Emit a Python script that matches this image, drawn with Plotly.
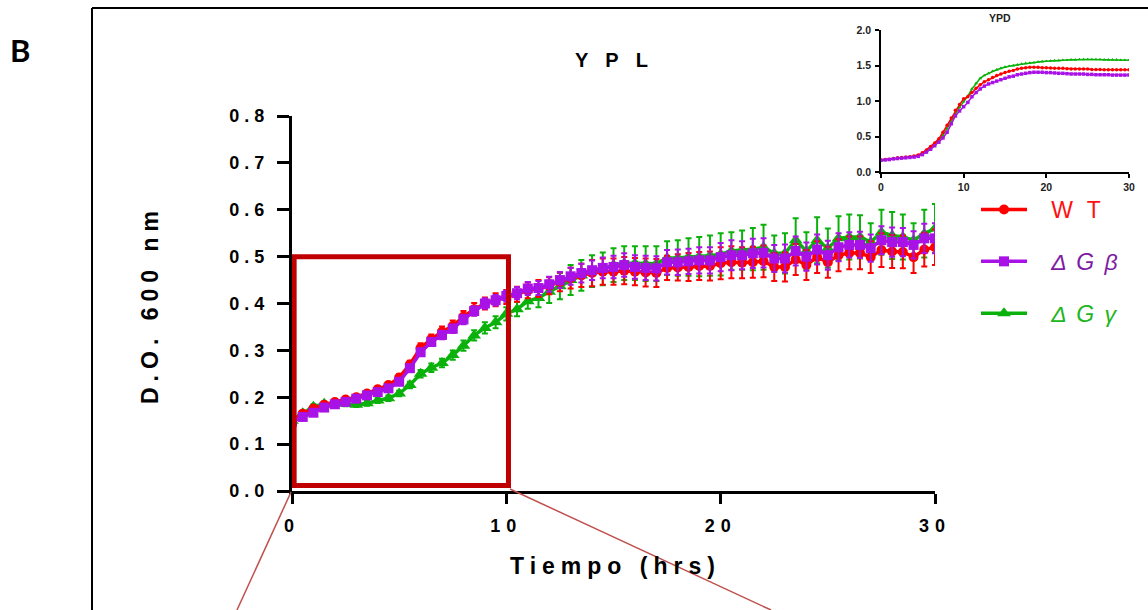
import plotly.graph_objects as go

W, H = 1148, 610
FONT = "Liberation Sans, Arial, sans-serif"

# ---------------- data ----------------
time_h = [0, 0.5, 1, 1.5, 2, 2.5, 3, 3.5, 4, 4.5, 5, 5.5, 6, 6.5, 7, 7.5, 8, 8.5, 9, 9.5,
          10, 10.5, 11, 11.5, 12, 12.5, 13, 13.5, 14, 14.5, 15, 15.5, 16, 16.5, 17, 17.5,
          18, 18.5, 19, 19.5, 20, 20.5, 21, 21.5, 22, 22.5, 23, 23.5, 24, 24.5, 25, 25.5,
          26, 26.5, 27, 27.5, 28, 28.5, 29, 29.5, 30]

# YPL (main panel), D.O. 600 nm
wt_ypl = [0.150, 0.165, 0.176, 0.184, 0.190, 0.195, 0.200, 0.208, 0.217, 0.226,
          0.242, 0.270, 0.305, 0.324, 0.340, 0.352, 0.372, 0.388, 0.400, 0.408,
          0.414, 0.420, 0.428, 0.432, 0.438, 0.446, 0.454, 0.460, 0.465, 0.468,
          0.468, 0.470, 0.468, 0.466, 0.465, 0.476, 0.477, 0.478, 0.480, 0.480,
          0.486, 0.488, 0.487, 0.488, 0.490, 0.478, 0.478, 0.494, 0.482, 0.499,
          0.488, 0.503, 0.508, 0.508, 0.499, 0.514, 0.511, 0.510, 0.499, 0.515,
          0.520]
wt_ypl_sd = [0.004, 0.004, 0.004, 0.004, 0.005, 0.005, 0.005, 0.005, 0.006, 0.006,
             0.007, 0.008, 0.010, 0.010, 0.011, 0.012, 0.012, 0.013, 0.013, 0.014,
             0.015, 0.016, 0.017, 0.018, 0.018, 0.020, 0.022, 0.025, 0.028, 0.028,
             0.028, 0.029, 0.029, 0.030, 0.030, 0.026, 0.028, 0.030, 0.030, 0.031,
             0.034, 0.034, 0.033, 0.033, 0.034, 0.030, 0.031, 0.033, 0.032, 0.034,
             0.033, 0.034, 0.035, 0.035, 0.034, 0.036, 0.035, 0.035, 0.034, 0.036,
             0.038]

gb_ypl = [0.148, 0.158, 0.167, 0.178, 0.185, 0.190, 0.197, 0.204, 0.211, 0.219,
          0.233, 0.262, 0.296, 0.318, 0.333, 0.346, 0.366, 0.384, 0.400, 0.407,
          0.416, 0.422, 0.432, 0.433, 0.441, 0.450, 0.458, 0.465, 0.471, 0.476,
          0.478, 0.482, 0.478, 0.476, 0.475, 0.488, 0.488, 0.490, 0.492, 0.492,
          0.499, 0.503, 0.503, 0.507, 0.508, 0.496, 0.496, 0.512, 0.500, 0.515,
          0.503, 0.520, 0.525, 0.525, 0.518, 0.535, 0.531, 0.531, 0.525, 0.539,
          0.539]
gb_ypl_sd = [0.003, 0.003, 0.003, 0.004, 0.004, 0.004, 0.004, 0.004, 0.005, 0.005,
             0.006, 0.007, 0.008, 0.008, 0.009, 0.009, 0.010, 0.010, 0.011, 0.011,
             0.012, 0.013, 0.014, 0.015, 0.016, 0.017, 0.018, 0.020, 0.021, 0.022,
             0.024, 0.025, 0.025, 0.026, 0.026, 0.026, 0.027, 0.027, 0.028, 0.028,
             0.030, 0.032, 0.030, 0.031, 0.031, 0.029, 0.030, 0.031, 0.030, 0.032,
             0.031, 0.030, 0.027, 0.028, 0.029, 0.030, 0.031, 0.030, 0.029, 0.031,
             0.032]

gg_ypl = [0.150, 0.166, 0.180, 0.186, 0.186, 0.186, 0.184, 0.187, 0.193, 0.198,
          0.208, 0.226, 0.250, 0.263, 0.273, 0.290, 0.310, 0.332, 0.348, 0.360,
          0.378, 0.388, 0.405, 0.412, 0.425, 0.437, 0.450, 0.460, 0.469, 0.474,
          0.482, 0.486, 0.486, 0.485, 0.485, 0.497, 0.497, 0.499, 0.500, 0.502,
          0.505, 0.512, 0.514, 0.516, 0.520, 0.507, 0.507, 0.535, 0.512, 0.535,
          0.518, 0.539, 0.542, 0.542, 0.531, 0.552, 0.545, 0.542, 0.535, 0.549,
          0.560]
gg_ypl_sd = [0.004, 0.004, 0.005, 0.005, 0.005, 0.005, 0.005, 0.005, 0.005, 0.006,
             0.006, 0.007, 0.008, 0.009, 0.009, 0.010, 0.011, 0.011, 0.012, 0.013,
             0.014, 0.015, 0.016, 0.020, 0.024, 0.028, 0.032, 0.033, 0.034, 0.035,
             0.036, 0.036, 0.036, 0.037, 0.037, 0.036, 0.038, 0.040, 0.042, 0.043,
             0.045, 0.040, 0.042, 0.045, 0.048, 0.038, 0.043, 0.047, 0.040, 0.049,
             0.042, 0.047, 0.048, 0.046, 0.040, 0.048, 0.050, 0.048, 0.036, 0.051,
             0.052]

# YPD (inset), D.O. 600 nm
wt_ypd = [0.17, 0.175, 0.18, 0.19, 0.20, 0.205, 0.21, 0.215, 0.225, 0.24,
          0.27, 0.31, 0.36, 0.41, 0.47, 0.56, 0.66, 0.76, 0.87, 0.95,
          1.03, 1.06, 1.12, 1.18, 1.23, 1.27, 1.30, 1.33, 1.36, 1.38,
          1.40, 1.42, 1.43, 1.45, 1.46, 1.47, 1.475, 1.475, 1.475, 1.47,
          1.47, 1.465, 1.46, 1.46, 1.46, 1.455, 1.45, 1.45, 1.45, 1.45,
          1.45, 1.445, 1.445, 1.445, 1.44, 1.44, 1.44, 1.44, 1.44, 1.44,
          1.44]
gb_ypd = [0.165, 0.17, 0.175, 0.185, 0.19, 0.195, 0.20, 0.205, 0.21, 0.22,
          0.245, 0.28, 0.32, 0.37, 0.42, 0.48, 0.56, 0.68, 0.79, 0.86,
          0.92, 0.98, 1.06, 1.12, 1.17, 1.21, 1.24, 1.26, 1.28, 1.30,
          1.32, 1.34, 1.35, 1.37, 1.38, 1.39, 1.40, 1.405, 1.405, 1.405,
          1.40, 1.40, 1.395, 1.39, 1.39, 1.385, 1.38, 1.38, 1.38, 1.38,
          1.375, 1.375, 1.37, 1.37, 1.37, 1.37, 1.365, 1.365, 1.365, 1.365,
          1.365]
gg_ypd = [0.165, 0.17, 0.18, 0.19, 0.195, 0.20, 0.205, 0.21, 0.22, 0.23,
          0.26, 0.30, 0.34, 0.39, 0.45, 0.52, 0.61, 0.72, 0.82, 0.91,
          0.99, 1.07, 1.17, 1.25, 1.32, 1.36, 1.39, 1.42, 1.44, 1.46,
          1.48, 1.49, 1.50, 1.51, 1.52, 1.53, 1.535, 1.54, 1.55, 1.555,
          1.56, 1.565, 1.57, 1.57, 1.575, 1.575, 1.58, 1.58, 1.585, 1.585,
          1.585, 1.585, 1.585, 1.585, 1.58, 1.58, 1.58, 1.58, 1.575, 1.575,
          1.575]

y_ticks = [0.0, 0.1, 0.2, 0.3, 0.4, 0.5, 0.6, 0.7, 0.8]
y_tick_labels = ["0.0", "0.1", "0.2", "0.3", "0.4", "0.5", "0.6", "0.7", "0.8"]
x_ticks = [0, 10, 20, 30]
x_tick_labels = ["0", "10", "20", "30"]
inset_y_ticks = [0.0, 0.5, 1.0, 1.5, 2.0]
inset_y_labels = ["0.0", "0.5", "1.0", "1.5", "2.0"]

# ---------------- style ----------------
RED = "#FF0000"
PURPLE = "#A912E6"
GREEN = "#0BB10B"
RED_TXT = "#FF1010"
PURPLE_TXT = "#7E1CA3"
GREEN_TXT = "#22B522"
NB = "\u00a0"


def px(x):
    return x / W


def py(y):
    return 1 - y / H


def ls(text, spacing, color=None):
    style = f"letter-spacing:{spacing}px"
    if color:
        style += f";color:{color}"
    return f'<span style="{style}">{text}</span>'


fig = go.Figure()

main = [
    (gg_ypl, gg_ypl_sd, GREEN, "triangle-up", 12, NB * 3 + ls("<i>Δ G γ</i>", 2, GREEN_TXT), 3),
    (wt_ypl, wt_ypl_sd, RED, "circle", 10, NB * 3 + ls("W T", 4, RED_TXT), 1),
    (gb_ypl, gb_ypl_sd, PURPLE, "square", 10, NB * 3 + ls("<i>Δ G β</i>", 2, PURPLE_TXT), 2),
]
for vals, sd, col, sym, msize, name, rank in main:
    fig.add_trace(go.Scatter(
        x=time_h, y=vals, mode="lines+markers", name=name,
        legendgroup=f"g{rank}", legendrank=rank,
        line=dict(color=col, width=3.5),
        marker=dict(color=col, symbol=sym, size=msize, line=dict(width=0)),
        error_y=dict(type="data", array=sd, visible=True, color=col,
                     thickness=2, width=3),
        xaxis="x", yaxis="y",
    ))

inset = [
    (gg_ypd, GREEN, "triangle-up"),
    (wt_ypd, RED, "circle"),
    (gb_ypd, PURPLE, "square"),
]
for vals, col, sym in inset:
    fig.add_trace(go.Scatter(
        x=time_h, y=vals, mode="lines+markers", showlegend=False,
        line=dict(color=col, width=1.5),
        marker=dict(color=col, symbol=sym, size=3.5, line=dict(width=0)),
        xaxis="x2", yaxis="y2",
    ))

tickfont_main = dict(family=FONT, size=18, color="black", weight="bold")
tickfont_inset = dict(family=FONT, size=10.5, color="#222", weight="bold")

fig.update_layout(
    template="none",
    width=W, height=H,
    margin=dict(l=0, r=0, t=0, b=0, pad=0, autoexpand=False),
    paper_bgcolor="white", plot_bgcolor="rgba(0,0,0,0)",
    showlegend=True,
    legend=dict(
        x=px(976), y=py(188), xanchor="left", yanchor="top",
        font=dict(family=FONT, size=23, color="black"),
        itemwidth=46, tracegroupgap=19, traceorder="grouped",
        bgcolor="rgba(0,0,0,0)", borderwidth=0,
    ),
    xaxis=dict(
        domain=[px(292), px(935)], range=[0, 30], anchor="y", automargin=False,
        tickvals=x_ticks, ticktext=[ls(t, 6) for t in x_tick_labels],
        ticks="outside", ticklen=10, tickwidth=3, tickcolor="black",
        showline=True, linewidth=3, linecolor="black",
        showgrid=False, zeroline=False, tickfont=tickfont_main,
        ticklabelstandoff=6,
    ),
    yaxis=dict(
        domain=[py(491), py(116)], range=[0, 0.8], anchor="x", automargin=False,
        tickvals=y_ticks, ticktext=[ls(t, 5) for t in y_tick_labels],
        ticks="outside", ticklen=12, tickwidth=3, tickcolor="black",
        showline=True, linewidth=3, linecolor="black",
        showgrid=False, zeroline=False, tickfont=tickfont_main,
        ticklabelstandoff=4,
    ),
    xaxis2=dict(
        domain=[px(881), px(1129)], range=[0, 30], anchor="y2", automargin=False,
        tickvals=x_ticks, ticktext=x_tick_labels,
        ticks="outside", ticklen=4, tickwidth=1.5, tickcolor="black",
        showline=True, linewidth=1.5, linecolor="black",
        showgrid=False, zeroline=False, tickfont=tickfont_inset,
        ticklabelstandoff=1,
    ),
    yaxis2=dict(
        domain=[py(172), py(30)], range=[0, 2.0], anchor="x2", automargin=False,
        tickvals=inset_y_ticks, ticktext=inset_y_labels,
        ticks="outside", ticklen=4, tickwidth=1.5, tickcolor="black",
        showline=True, linewidth=1.5, linecolor="black",
        showgrid=False, zeroline=False, tickfont=tickfont_inset,
        ticklabelstandoff=2,
    ),
)

shapes = [
    # panel frame
    dict(type="line", xref="paper", yref="paper", x0=px(92), y0=py(8), x1=1.0, y1=py(8),
         line=dict(color="black", width=2), layer="above"),
    dict(type="line", xref="paper", yref="paper", x0=px(92), y0=py(8), x1=px(92), y1=0.0,
         line=dict(color="black", width=2), layer="above"),
    # zoom box
    dict(type="rect", xref="x", yref="y", x0=0.1, x1=10.1, y0=0.012, y1=0.5,
         line=dict(color="#C00000", width=5), layer="above"),
    # zoom connectors
    dict(type="line", xref="paper", yref="paper", x0=px(291), y0=py(492), x1=px(237), y1=0.0,
         line=dict(color="#C0504D", width=1.5), layer="above"),
    dict(type="line", xref="paper", yref="paper", x0=px(510), y0=py(489), x1=px(771), y1=0.0,
         line=dict(color="#C0504D", width=1.5), layer="above"),
]
fig.update_layout(shapes=shapes)


def label(text, x, y, size, family=FONT, color="black", angle=0):
    return dict(text=text, x=px(x), y=py(y), xref="paper", yref="paper",
                xanchor="center", yanchor="middle", textangle=angle,
                showarrow=False, font=dict(family=family, size=size, color=color))


annotations = [
    label("<b>B</b>", 20, 50, 31, family="Lato, Open Sans, sans-serif"),
    label("<b>" + ls("YPL", 17) + "</b>", 620, 60, 20),
    label("<b>" + ls("D.O. 600 nm", 6) + "</b>", 150, 305, 23, angle=-90),
    label("<b>" + ls("Tiempo (hrs)", 6) + "</b>", 615, 566, 23),
    label("<b>YPD</b>", 1000, 18, 10.5, color="#222"),
]
fig.update_layout(annotations=annotations)

fig.write_html(
    "out.html",
    post_script="document.body.style.margin='0';document.body.style.overflow='hidden';",
)
